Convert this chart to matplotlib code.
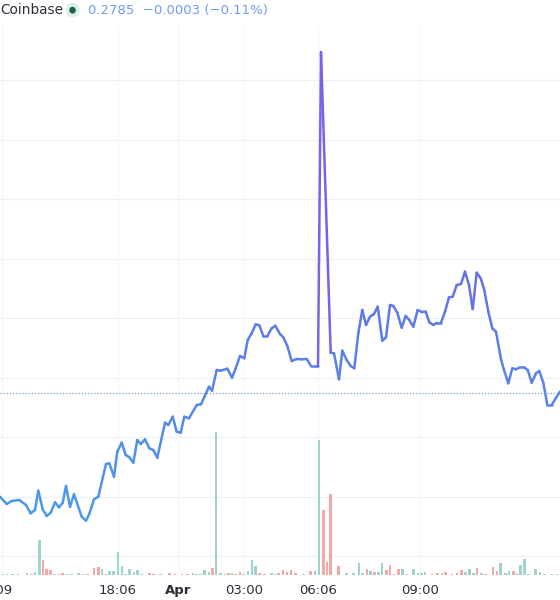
import numpy as np
import matplotlib
matplotlib.use("Agg")
import matplotlib.pyplot as plt
from matplotlib.collections import LineCollection
from matplotlib.colors import LinearSegmentedColormap

# price line, x in chart time units, y read as pixel rows from the top
line_x = [0, 6.7, 11.7, 19.3, 26, 30.7, 35, 38.3, 42.7, 46.7, 50.7, 55, 59, 62.7, 66, 70, 74, 81.7, 86, 89.3,
          94, 98.3, 106, 109.3, 114, 117.3, 121.7, 125.7, 129.3, 133.3, 137.3, 140.7, 145, 149.3, 153.3, 157.3,
          165, 168.3, 172.7, 176.7, 180.7, 184.3, 189, 196.7, 201, 209, 212, 216.7, 220.7, 227.3, 232, 235.7,
          240, 244.3, 247.7, 251.7, 255.7, 259.3, 263.3, 267.3, 271.7, 275.3,
          280, 283.3, 287.3, 291.7, 296.7, 301.7, 306.7, 311, 315, 318, 321, 330.7, 334, 339, 342.3, 346.7,
          350.7, 354.3, 358.3, 362.3, 366, 370, 374, 377.7, 382.3, 386, 390, 393.3, 397.3, 401.7, 405.7, 409.3,
          413.3, 417.7, 421.7, 425.7, 429.3, 433.3, 437, 441, 445, 449, 452.7, 456.7, 461, 465, 469, 472.7,
          476.7, 480.7, 484.3, 488.3, 492.3, 496, 501, 504, 508.3, 512.3, 516, 520, 524, 527.7, 531.7, 536,
          539.3, 543.3, 547.3, 551.7, 555.7, 560]
line_row = [496.7, 504, 501, 500, 505, 513.3, 510, 490.7, 509.3, 516, 512.7, 502.3, 507.3, 502.7, 486, 506.7,
            494.3, 516.7, 520.7, 514, 499.3, 496.7, 464, 463.3, 476.7, 451.7, 442.7, 455, 457.3, 462.7, 440, 444,
            439.3, 448.3, 450, 457.7, 422.7, 425, 416.7, 431.7, 432.7, 416.7, 418.3, 405, 404.3, 386.7, 390.7,
            370, 370.7, 368.7, 377.7, 368.3, 356, 358.3, 340, 333.3, 324.3, 325.3, 336, 336, 328.3, 325.7,
            334, 337.3, 346, 361, 359, 359.3, 359, 366, 366, 366, 52, 352.7, 353.3, 379.3, 350.7, 360,
            366, 368.3, 333.3, 310, 325, 316.7, 314, 306.7, 340.7, 337.3, 305, 306, 312.7, 327.7, 316, 320,
            326.7, 310, 312, 311.7, 322.3, 325, 322.7, 322.7, 311.7, 297.3, 296.7, 285, 284, 271.7, 285, 309,
            272.7, 278.3, 290, 311.7, 328.3, 331.7, 359.3, 370, 383.3, 368.3, 369.3, 367.3, 367.3, 370, 382.7,
            373.3, 371, 382.7, 405, 405, 398.3, 391.7]

# volume bars: x, height, up/down
vol_x = [2.9, 7.1, 12.5, 17.9, 26.8, 31.4, 35, 39.3, 42.9, 46.4, 50.7, 54.6, 58.9, 62.5, 67.1, 71.4, 78.6,
         82.9, 87.5, 93.9, 98.2, 101.8, 106.1, 109.6, 113.6, 117.9, 122.1, 125.7, 129.6, 133.9, 137.5, 141.8,
         149.3, 153.6, 160.7, 169.6, 175, 182.1, 187.5, 192.9, 196.4, 200.7, 204.3, 208.9, 212.5, 216.1,
         220.4, 225, 228.6, 232.1, 235.7, 240, 243.6, 248.2, 251.8, 255.4, 259.6, 264.3, 271.4, 275, 278.6,
         282.9, 286.8, 291.1, 295.4, 303.6, 310.7, 315, 318.9, 323.2, 326.8, 330.4, 338.6, 346.4, 353.6,
         358.9, 362.5, 366.8, 370.4, 374.3, 378.6, 382.1, 386.5, 390, 394, 398.2, 402.5, 407.1, 413.6,
         417.9, 421.4, 425, 432.1, 437.5, 441.8, 445.7, 451.8, 457.1, 461.4, 465.4, 469.3, 473.2, 476.8,
         481.4, 485.7, 492.9, 497.1, 500.7, 505.4, 508.9, 513.2, 516.8, 520.7, 524.3, 528.6, 535.7, 540,
         544.6, 551.8, 557.1]
vol_h = [1, 1, 1, 1, 2, 1, 3, 35, 15, 6, 5, 1, 1, 2, 1, 1, 2, 1, 1, 7, 8, 6, 1, 4, 4, 23, 9, 1, 6, 3,
         5, 1, 2, 1, 1, 2, 1, 1, 1, 2, 1, 1, 5, 3, 7, 143, 2, 1, 2, 2, 1, 3, 1, 4, 15, 9, 2, 1, 2, 1,
         2, 5, 3, 5, 2, 1, 4, 4, 135, 65, 13, 81, 9, 2, 2, 12, 2, 6, 4, 3, 3, 12, 5, 10, 1, 6, 6, 1, 6,
         2, 2, 3, 1, 2, 2, 3, 1, 2, 5, 3, 6, 2, 7, 2, 1, 8, 4, 12, 2, 4, 4, 2, 10, 16, 1, 6, 3, 1, 1, 1]
vol_up = "gggggrggrrrgrrggggrrrgrgggggggggrrgrrrrgggggrggrrgrrggggrrggrrrrrgrggrrrrggggrgrggrrrrggggggrrgrrrrgggrgrrrgggrgggggg"

ticks_x = [2, 118, 178, 244, 318, 420]
ticks_lbl = [":09", "18:06", "Apr", "03:00", "06:06", "09:00"]
last_price_row = 393

price = 600 - np.array(line_row)
xs = np.array(line_x)

fig = plt.figure(figsize=(5.6, 6), dpi=100)
ax = fig.add_axes([0, 22 / 600, 1, 553 / 600])
ax.set_xlim(0, 560)
ax.set_ylim(22, 575)
for s in ax.spines.values():
    s.set_visible(False)
ax.set_yticks(np.arange(44, 575, 59.5))
ax.set_xticks(ticks_x)
ax.grid(True, axis="y", color="#eef1f5", lw=0.9)
ax.grid(True, axis="x", color="#f4f6f9", lw=0.8)
ax.set_axisbelow(True)
ax.tick_params(left=False, labelleft=False, length=0, labelsize=9.5, labelcolor="#2a2e39", pad=4)
ax.set_xticklabels(ticks_lbl)
for t in ax.get_xticklabels():
    if t.get_text() == "Apr":
        t.set_fontweight("bold")

ax2 = ax.twinx()
ax2.set_ylim(-3, 550)
ax2.axis("off")
vcol = ["#9fd3cc" if c == "g" else "#f2a8a4" for c in vol_up]
ax2.bar(vol_x, vol_h, width=2.6, color=vcol, zorder=1)

cmap = LinearSegmentedColormap.from_list("pv", ["#4a9be8", "#6472ea", "#a43ff0"])
pts = np.column_stack([xs, price]).reshape(-1, 1, 2)
segs = np.concatenate([pts[:-1], pts[1:]], axis=1)
mid = (price[:-1] + price[1:]) / 2
lc = LineCollection(segs, cmap=cmap, norm=plt.Normalize(80, 560), lw=1.8, capstyle="round", joinstyle="round")
lc.set_array(mid)
ax3 = ax.twinx()
ax3.set_ylim(ax.get_ylim())
ax3.axis("off")
ax3.add_collection(lc)
ax3.axhline(600 - last_price_row, color="#7f95ea", lw=0.9, ls=(0, (1, 1.5)))

fig.text(0.0, 0.983, "Coinbase", fontsize=9.8, color="#2a2e39", va="center")
fig.patches.append(plt.Circle((0.1295, 0.983), 0.011, transform=fig.transFigure, color="#dcefe9"))
fig.patches.append(plt.Circle((0.1295, 0.983), 0.0045, transform=fig.transFigure, color="#1f5f4f"))
fig.text(0.157, 0.983, "0.2785  \u22120.0003 (\u22120.11%)", fontsize=9.5, color="#6e9cf0", va="center")

fig.savefig("out.png", dpi=100)
